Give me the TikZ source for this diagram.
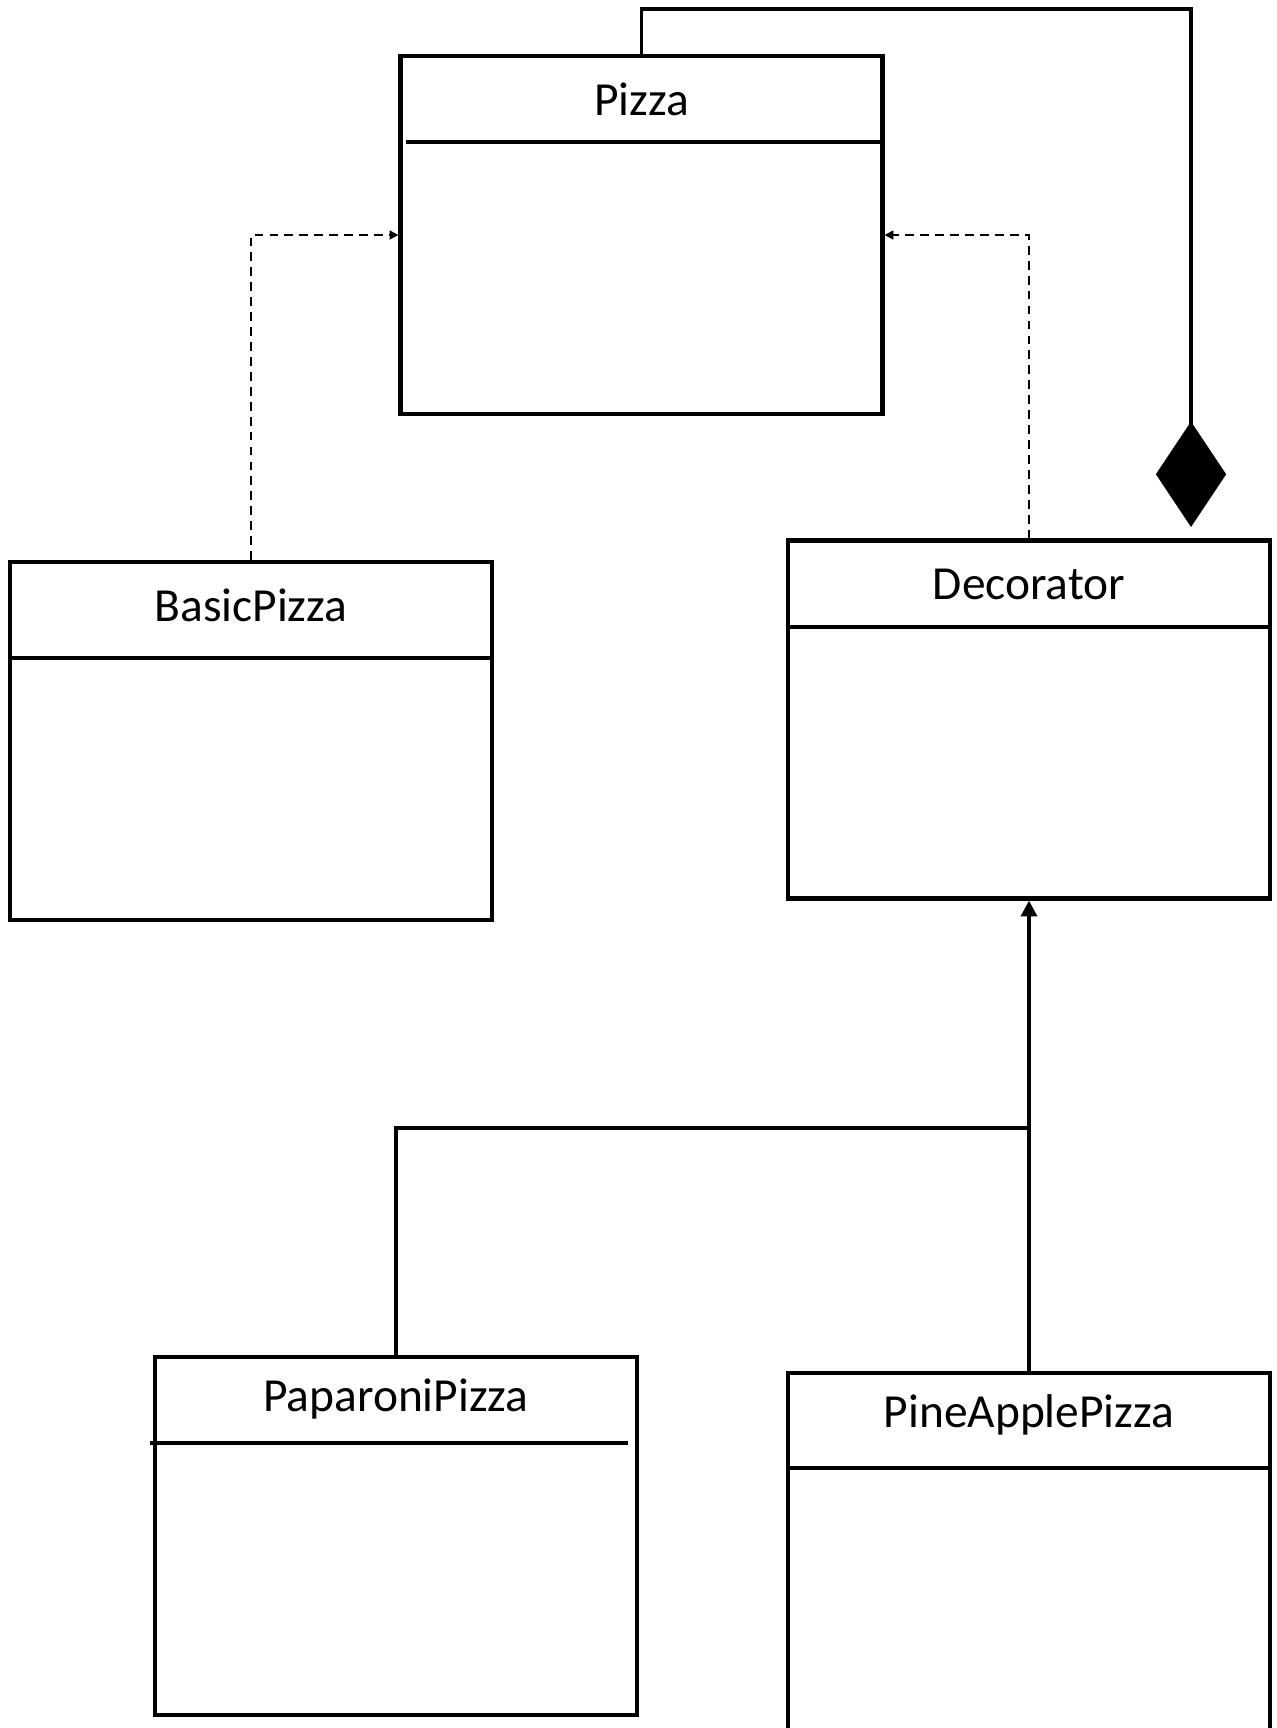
\documentclass[tikz,border=0pt]{standalone}
\usepackage{fontspec}
\setmainfont{Carlito}
\usetikzlibrary{arrows.meta,positioning,calc}

\begin{document}
\begin{tikzpicture}[
  x=0.02cm,y=-0.02cm,
  klass/.style={draw,line width=2.4pt,minimum width=9.64cm,minimum height=7.16cm,inner sep=0pt},
  cname/.style={font=\fontsize{27}{32}\selectfont,inner sep=0pt},
  divider/.style={line width=2.4pt},
  realize/.style={dash pattern=on 5pt off 3.5pt,line width=1.2pt,-{Triangle[length=5pt,width=5pt]}},
  comp/.style={line width=2pt,-{Diamond[length=60pt,width=40pt]}},
  inherit/.style={line width=2.2pt,-{Triangle[length=9pt,width=9pt]}},
  assoc/.style={line width=2.2pt}
]
  \useasboundingbox (0,0) rectangle (1277,1728);
  % Classes
  \node[klass] (pizza) at (641.5,235) {};
  \node[cname] (pizzaname) at (641.5,99) {Pizza};
  \draw[divider] (406,142) -- (pizza.east |- 0,142);
  \node[klass] (basic) at (251,741) {};
  \node[cname] (basicname) at (251,605) {BasicPizza};
  \draw[divider] (basic.west |- 0,658) -- (basic.east |- 0,658);
  \node[klass] (decorator) at (1029,719.5) {};
  \node[cname] (decoratorname) at (1029,584) {Decorator};
  \draw[divider] (decorator.west |- 0,627) -- (decorator.east |- 0,627);
  \node[klass] (paparoni) at (396,1536) {};
  \node[cname] (paparoniname) at (396,1399) {PaparoniPizza};
  \draw[divider] (150,1443) -- (628,1443);
  \node[klass] (pine) at (1029,1552) {};
  \node[cname] (pinename) at (1029,1415) {PineApplePizza};
  \draw[divider] (pine.west |- 0,1468) -- (pine.east |- 0,1468);
  % Relations
  \coordinate (diamondtip) at (1191,527);
  \coordinate (junction) at (1029,1128);
  \draw[realize] (basic.north) |- (pizza.west);
  \draw[realize] (decorator.north) |- (pizza.east);
  \draw[comp] (pizza.north) |- (1191,9) -- (diamondtip);
  \draw[inherit] (pine.north) -- (decorator.south);
  \draw[assoc] (paparoni.north) |- (junction);
\end{tikzpicture}
\end{document}
